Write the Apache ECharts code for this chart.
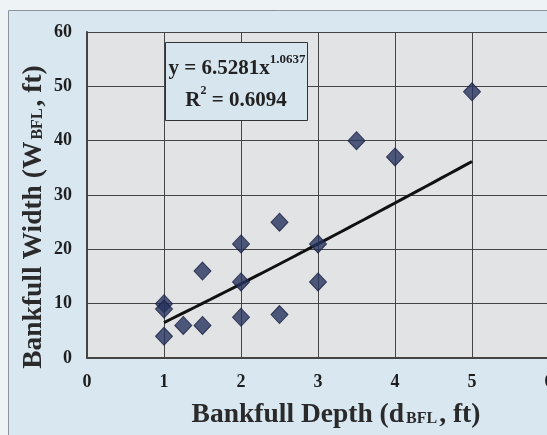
<!DOCTYPE html>
<html>
<head>
<meta charset="utf-8">
<script src="https://cdn.jsdelivr.net/npm/echarts@6/dist/echarts.min.js"></script>
<style>
  html, body { margin: 0; padding: 0; background: #eef3f6; }
  #chart { width: 547px; height: 435px; }
</style>
</head>
<body>
<div id="chart"></div>
<script>
// Bankfull depth (ft) and bankfull width (ft) measured at each site
const depthFt = [1, 1, 1, 1.25, 1.5, 1.5, 2, 2, 2, 2.5, 2.5, 3, 3, 3.5, 4, 5];
const widthFt = [10, 9, 4, 6, 6, 16, 21, 14, 7.5, 25, 8, 21, 14, 40, 37, 49];

// Power-law fit reported on the chart: W = a * d^b
const fitA = 6.5281;
const fitB = 1.0637;
const fitR2 = 0.6094;
const fitRange = [1, 5];

// Axis ticks
const xTicks = [0, 1, 2, 3, 4, 5, 6];
const yTicks = [0, 10, 20, 30, 40, 50, 60];

const points = depthFt.map((d, i) => [d, widthFt[i]]);

// Trend curve sampled along the fitted range
const fitPoints = [];
for (let k = 0; k <= 40; k++) {
  const d = fitRange[0] + (fitRange[1] - fitRange[0]) * k / 40;
  fitPoints.push([d, fitA * Math.pow(d, fitB)]);
}

const serif = '"Liberation Serif", "Times New Roman", serif';
const chart = echarts.init(document.getElementById('chart'));

const titleRich = {
  m: { fontFamily: serif, fontWeight: 'bold', fontSize: 27.5, fill: '#2a2a2a', lineHeight: 32, verticalAlign: 'bottom' },
  b: { fontFamily: serif, fontWeight: 'bold', fontSize: 16, fill: '#2a2a2a', lineHeight: 32, verticalAlign: 'bottom', padding: [0, 2, 2, 2] }
};

chart.setOption({
  backgroundColor: '#eef3f6',
  animation: false,
  grid: {
    left: 87, top: 32, right: -2, bottom: 77,
    show: true, backgroundColor: '#e2e3e5', borderWidth: 0,
    outerBoundsMode: 'none'
  },
  xAxis: {
    type: 'value',
    min: xTicks[0], max: xTicks[xTicks.length - 1], interval: 1,
    axisLine: { show: true, onZero: false, lineStyle: { color: '#444', width: 2 } },
    axisTick: { show: false },
    axisLabel: { color: '#1e1e1e', fontFamily: serif, fontWeight: 'bold', fontSize: 18, margin: 15 },
    splitLine: { show: true, lineStyle: { color: '#454545', width: 1 } }
  },
  yAxis: {
    type: 'value',
    min: yTicks[0], max: yTicks[yTicks.length - 1], interval: 10,
    axisLine: { show: true, onZero: false, lineStyle: { color: '#444', width: 2 } },
    axisTick: { show: false },
    axisLabel: { color: '#1e1e1e', fontFamily: serif, fontWeight: 'bold', fontSize: 18, margin: 15 },
    splitLine: { show: true, lineStyle: { color: '#454545', width: 1 } }
  },
  graphic: [
    // outer chart frame
    {
      type: 'rect', z: -10, silent: true,
      shape: { x: 8.5, y: 10.5, width: 600, height: 500 },
      style: { fill: '#d9e7f1', stroke: '#8c939b', lineWidth: 1 }
    },
    // fit equation box
    {
      type: 'rect', z: 100,
      shape: { x: 165.5, y: 42.5, width: 142, height: 78 },
      style: { fill: '#d7e5ef', stroke: '#333', lineWidth: 1 }
    },
    {
      type: 'text', z: 101, x: 237, y: 66,
      style: {
        text: '{m|y = ' + fitA.toFixed(4) + 'x}{s|' + fitB.toFixed(4) + '}',
        align: 'center', verticalAlign: 'middle',
        rich: {
          m: { fontFamily: serif, fontWeight: 'bold', fontSize: 21, fill: '#222', lineHeight: 26, verticalAlign: 'bottom' },
          s: { fontFamily: serif, fontWeight: 'bold', fontSize: 13, fill: '#222', lineHeight: 26, verticalAlign: 'top', padding: [0, 0, 10, 0] }
        }
      }
    },
    {
      type: 'text', z: 101, x: 236, y: 98,
      style: {
        text: '{m|R}{s|2}{m| = ' + fitR2.toFixed(4) + '}',
        align: 'center', verticalAlign: 'middle',
        rich: {
          m: { fontFamily: serif, fontWeight: 'bold', fontSize: 21, fill: '#222', lineHeight: 26, verticalAlign: 'bottom' },
          s: { fontFamily: serif, fontWeight: 'bold', fontSize: 12, fill: '#222', lineHeight: 26, verticalAlign: 'top', padding: [0, 0, 10, 0] }
        }
      }
    },
    // axis titles
    {
      type: 'text', z: 50, x: 336, y: 413,
      style: {
        text: '{m|Bankfull Depth (d}{b|BFL}{m|, ft)}',
        align: 'center', verticalAlign: 'middle',
        rich: titleRich
      }
    },
    {
      type: 'text', z: 50, x: 32, y: 217, rotation: Math.PI / 2,
      style: {
        text: '{m|Bankfull Width (W}{b|BFL}{m|, ft)}',
        align: 'center', verticalAlign: 'middle',
        rich: titleRich
      }
    }
  ],
  series: [
    {
      type: 'line',
      data: fitPoints,
      showSymbol: false,
      smooth: false,
      lineStyle: { color: '#111', width: 3 },
      z: 3
    },
    {
      type: 'scatter',
      data: points,
      symbol: 'diamond',
      symbolSize: [17, 18],
      itemStyle: { color: '#25325c', borderColor: '#1a2242', borderWidth: 1 },
      z: 4
    }
  ]
});
</script>
</body>
</html>
